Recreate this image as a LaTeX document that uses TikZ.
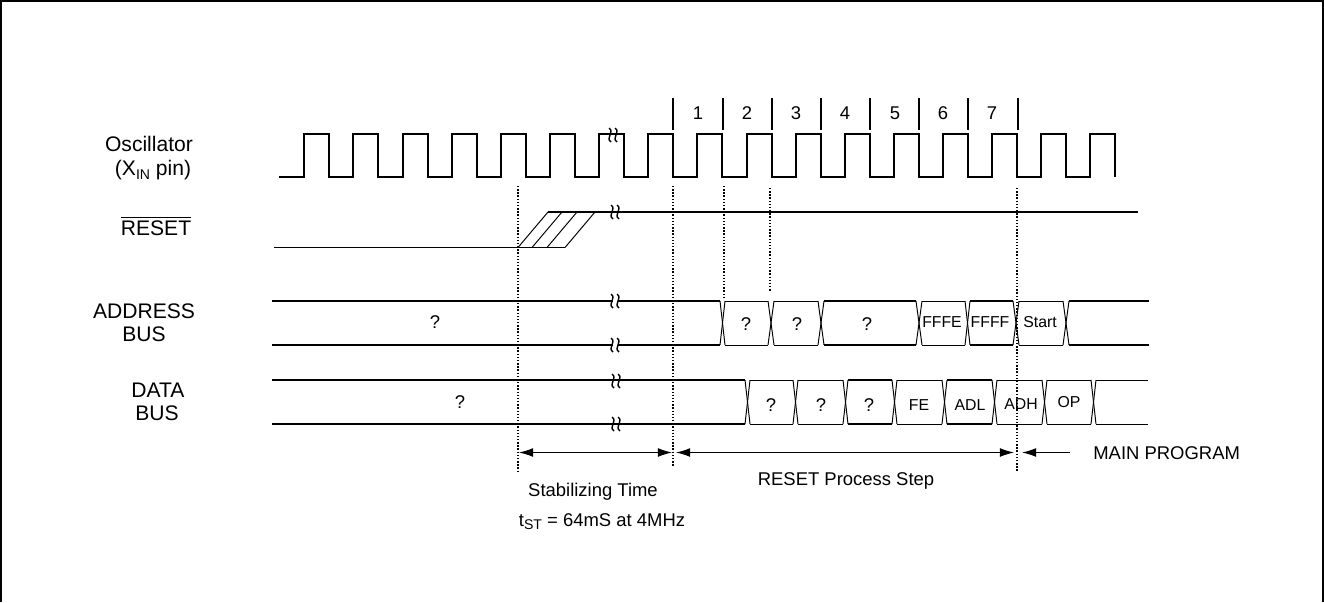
\documentclass[tikz,border=0pt]{standalone}
\usepackage{fontspec}
\setmainfont{Liberation Sans}
\usetikzlibrary{arrows.meta,positioning,calc}
\newcommand{\namesize}{\fontsize{12}{14}\selectfont}
\newcommand{\lblsize}{\fontsize{10.5}{12.6}\selectfont}
\newcommand{\cellsize}{\fontsize{9}{11}\selectfont}
\newcommand{\lowsub}[2]{\raisebox{#1}{\fontsize{8}{8}\selectfont #2}}
\begin{document}
\begin{tikzpicture}[x=0.02cm,y=-0.02cm,
    every node/.style={align=center,font=\lblsize,inner sep=0pt},
    signame/.style={font=\namesize},
    sig/.style={line width=1.1pt,black},
    thin sig/.style={line width=0.55pt,black},
    guide/.style={line width=0.8pt,densely dotted,black},
    span/.style={line width=0.55pt,{Latex[length=8pt,width=5pt]}-{Latex[length=8pt,width=5pt]}},
    cell/.style={font=\cellsize}]
  \useasboundingbox (0,0) rectangle (1324,602);
  \draw[line width=1.1pt] (1,602) -- (1,1) -- (1323,1) -- (1323,602);
  % signal names
  \node[signame] (osc) at (149,144) {Oscillator};
  \node[signame,anchor=base] (xin) at (153,175) {(X\lowsub{-2.5pt}{IN} pin)};
  \node[signame] (rst) at (156,226) {$\overline{\mbox{RESET}}$};
  \node[signame] (adr) at (144,311) {ADDRESS};
  \node[signame] (adrb) at (144,334) {BUS};
  \node[signame] (dat) at (158,390) {DATA};
  \node[signame] (datb) at (157,413) {BUS};
  % clock
  \draw[sig] (279,177) foreach \x in {304,353,403,452,501,550,599,648,697,747,796,845,894,943,992,1041,1090}
    {-- (\x,177) -- (\x,134) -- (\x+25,134) -- (\x+25,177)};
  \foreach \x in {673,723,772,821,870,919,968,1018}{\draw[line width=0.8pt] (\x,98) -- (\x,130);}
  \foreach \n/\x in {1/698,2/747,3/796,4/845,5/895,6/943,7/992}{\node (c\n) at (\x,113) {\n};}
  % reset
  \draw[thin sig] (274,247.5) -- (565,247.5);
  \draw[sig] (548,212) -- (1138,212);
  \foreach \x in {518,532,547,565}{\draw[thin sig] (\x,247.5) -- (\x+30,212);}
  % address bus
  \foreach \a/\b/\w in {272/720/1.1,725/768/0.55,774/818/0.55,824/916/1.1,922/965/0.55,970/1013/1.1,1019/1063/0.55,1069/1149/1.1}{
    \draw[line width=\w pt] (\a,301) -- (\b,301);
    \draw[line width=\w pt] (\a,345) -- (\b,345);}
  \foreach \a/\b in {720/725,768/774,818/824,916/922,965/970,1013/1019,1063/1069}{
    \draw[thin sig] (\a,301) -- (\b,345);
    \draw[thin sig] (\a,345) -- (\b,301);}
  \node (a0) at (435,322) {?};
  \foreach \n/\x in {1/746,2/797,3/867}{\node (a\n) at (\x,324) {?};}
  \node[cell] (a4) at (942,322) {FFFE};
  \node[cell] (a5) at (990,322) {FFFF};
  \node[cell] (a6) at (1040,322) {Start};
  % data bus
  \foreach \a/\b/\w in {272/745/1.1,750/793/0.55,798/843/0.55,848/892/1.1,897/942/0.55,947/992/1.1,997/1042/0.55,1047/1091/0.55,1096/1148/0.55}{
    \draw[line width=\w pt] (\a,380) -- (\b,380);
    \draw[line width=\w pt] (\a,424) -- (\b,424);}
  \foreach \a/\b in {745/750,793/798,843/848,892/897,942/947,992/997,1042/1047,1091/1096}{
    \draw[thin sig] (\a,380) -- (\b,424);
    \draw[thin sig] (\a,424) -- (\b,380);}
  \node (d0) at (460,402) {?};
  \foreach \n/\x in {1/771,2/821,3/869}{\node (d\n) at (\x,405) {?};}
  \node[cell] (d4) at (919,405) {FE};
  \node[cell] (d5) at (970,405) {ADL};
  \node[cell] (d6) at (1021,404) {ADH};
  \node[cell] (d7) at (1069,402) {OP};
  % breaks
  \foreach \x/\y in {615/301,615/345}{\fill[white] (\x-2,\y-3) rectangle (\x+3,\y+3);}
  \foreach \x/\y in {613/135,615/212,615/301,615/345,616/381,616/424}{
    \foreach \d in {-3,3}{\draw[line width=0.8pt] (\x+\d-1,\y-7) .. controls (\x+\d+5,\y-3) and (\x+\d-5,\y+3) .. (\x+\d+1,\y+7);}}
  % guides
  \draw[guide] (518,186) -- (518,472);
  \draw[guide] (673,186) -- (673,467);
  \draw[guide] (724,186) -- (724,297);
  \draw[guide] (770,188) -- (770,292);
  \draw[guide] (1017,188) -- (1017,471);
  % spans
  \coordinate (s1) at (519,452.5);
  \coordinate (s2) at (672,452.5);
  \coordinate (s3) at (676,452.5);
  \coordinate (s4) at (1014,452.5);
  \coordinate (s5) at (1022,452.5);
  \coordinate (s6) at (1070,452.5);
  \draw[span] (s1) -- (s2);
  \draw[span] (s3) -- (s4);
  \draw[line width=0.55pt,{Latex[length=8pt,width=5pt]}-] (s5) -- (s6);
  \node[anchor=west] (mp) at (1093,453) {MAIN PROGRAM};
  \node (rp) at (846,481) {RESET Process Step};
  \node (st) at (593,492) {Stabilizing Time};
  \node[anchor=base] (ts) at (602,526) {t\lowsub{-2.2pt}{ST} = 64mS at 4MHz};
\end{tikzpicture}
\end{document}
